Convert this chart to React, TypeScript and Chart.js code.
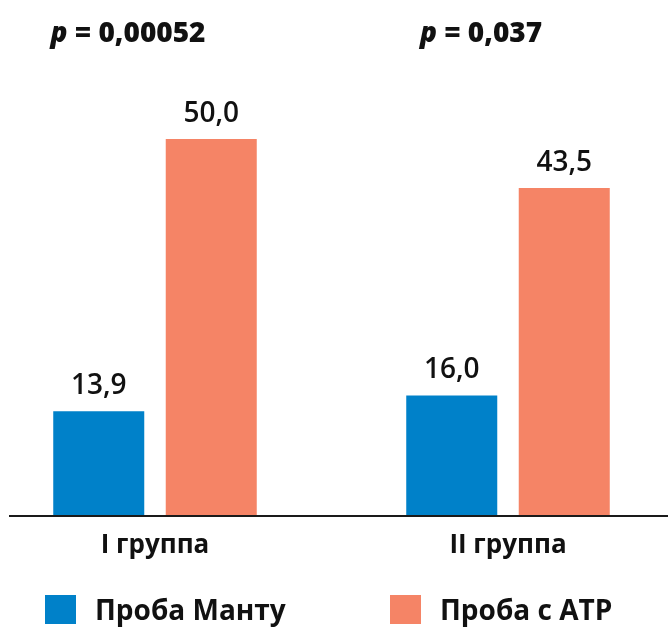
import React, { useEffect, useRef } from "react";
import { Chart, registerables } from "chart.js";

Chart.register(...registerables);

const categories = ["I группа", "II группа"];
const seriesNames = ["Проба Манту", "Проба с АТР"];
const mantouxValues = [13.9, 16.0];
const atrValues = [50.0, 43.5];
const pValues = ["0,00052", "0,037"];
const seriesColors = ["#0081C9", "#F58466"];
const yMin = 0;
const yMax = 60;

const FONT = '"Open Sans", "Noto Sans", sans-serif';
const TEXT = "#111111";

function fmt(v: number): string {
  return v.toFixed(1).replace(".", ",");
}

const annotations = {
  id: "annotations",
  afterDatasetsDraw(chart: any) {
    const ctx: CanvasRenderingContext2D = chart.ctx;
    const xs = chart.scales.x;
    const area = chart.chartArea;
    ctx.save();
    // baseline
    ctx.strokeStyle = "#1a1a1a";
    ctx.lineWidth = 2;
    ctx.beginPath();
    ctx.moveTo(9, area.bottom);
    ctx.lineTo(chart.width, area.bottom);
    ctx.stroke();
    // value labels
    ctx.fillStyle = TEXT;
    ctx.font = `600 28px ${FONT}`;
    ctx.textAlign = "center";
    ctx.textBaseline = "alphabetic";
    chart.data.datasets.forEach((ds: any, di: number) => {
      const meta = chart.getDatasetMeta(di);
      meta.data.forEach((bar: any, i: number) => {
        ctx.fillText(fmt(ds.data[i]), bar.x, bar.y - 17);
      });
    });
    // p-values
    ctx.textAlign = "left";
    categories.forEach((_c, i) => {
      const cx = xs.getPixelForValue(i) - 27;
      const pPart = "p";
      const rest = " = " + pValues[i];
      const italic = `italic 800 28px ${FONT}`;
      const bold = `800 28px ${FONT}`;
      ctx.font = italic;
      const wp = ctx.measureText(pPart).width;
      ctx.font = bold;
      const wr = ctx.measureText(rest).width;
      const start = cx - (wp + wr) / 2;
      ctx.font = italic;
      ctx.fillText(pPart, start, 42);
      ctx.font = bold;
      ctx.fillText(rest, start + wp, 42);
    });
    ctx.restore();
  },
};

export default function App() {
  const ref = useRef<HTMLCanvasElement>(null);

  useEffect(() => {
    if (!ref.current) return;
    const chart = new Chart(ref.current, {
      type: "bar",
      data: {
        labels: categories,
        datasets: [
          {
            label: seriesNames[0],
            data: mantouxValues,
            backgroundColor: seriesColors[0],
            clip: false as any,
            barPercentage: 0.809,
            categoryPercentage: 0.6374,
          },
          {
            label: seriesNames[1],
            data: atrValues,
            backgroundColor: seriesColors[1],
            clip: false as any,
            barPercentage: 0.809,
            categoryPercentage: 0.6374,
          },
        ],
      },
      options: {
        animation: false,
        responsive: false,
        maintainAspectRatio: false,
        layout: { padding: { left: 155, right: 160, top: 63.5, bottom: 53.7 } },
        plugins: { legend: { display: false }, tooltip: { enabled: false } },
        scales: {
          x: {
            offset: false,
            grid: { display: false, drawTicks: false },
            border: { display: false },
            ticks: {
              font: { family: FONT, size: 26, weight: "bold" },
              color: TEXT,
              padding: 14,
            },
          },
          y: { display: false, min: yMin, max: yMax },
        },
      },
      plugins: [annotations],
    });
    return () => chart.destroy();
  }, []);

  return (
    <div style={{ position: "absolute", left: 0, top: 0, width: 668, height: 629, background: "#fff" }}>
      <canvas ref={ref} width={668} height={629} style={{ display: "block" }} />
      <div style={{ position: "absolute", top: 595, left: 0, width: 668, height: 30 }}>
        {seriesNames.map((n, i) => (
          <div
            key={n}
            style={{ position: "absolute", left: i === 0 ? 45 : 390, top: 0, display: "flex", alignItems: "center" }}
          >
            <span style={{ width: 31, height: 29, background: seriesColors[i], display: "inline-block" }} />
            <span style={{ marginLeft: 19, font: `700 28px ${FONT}`, color: TEXT, lineHeight: "29px", whiteSpace: "nowrap" }}>
              {n}
            </span>
          </div>
        ))}
      </div>
    </div>
  );
}
